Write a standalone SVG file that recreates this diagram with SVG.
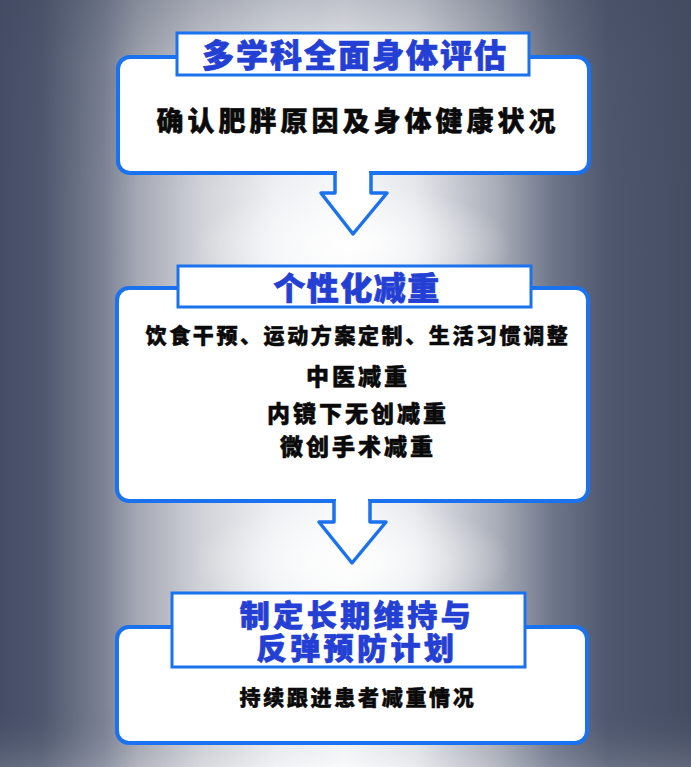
<svg xmlns="http://www.w3.org/2000/svg" width="691" height="767" viewBox="0 0 691 767">
  <defs>
    <linearGradient id="bgH" x1="0" y1="0" x2="1" y2="0">
      <stop offset="0" stop-color="#454e66"/>
      <stop offset="0.06" stop-color="#4d566d"/>
      <stop offset="0.15" stop-color="#7b8294"/>
      <stop offset="0.2" stop-color="#a5a9b4"/>
      <stop offset="0.29" stop-color="#d0d2d8"/>
      <stop offset="0.4" stop-color="#eef0f3"/>
      <stop offset="0.5" stop-color="#f8f9fa"/>
      <stop offset="0.6" stop-color="#e6e8ec"/>
      <stop offset="0.72" stop-color="#a9adb8"/>
      <stop offset="0.8" stop-color="#6e768a"/>
      <stop offset="0.88" stop-color="#4e576e"/>
      <stop offset="1" stop-color="#454d63"/>
    </linearGradient>
    <linearGradient id="bgV" x1="0" y1="0" x2="0" y2="1">
      <stop offset="0" stop-color="#3e465c" stop-opacity="0.3"/>
      <stop offset="0.08" stop-color="#3e465c" stop-opacity="0.1"/>
      <stop offset="0.25" stop-color="#3e465c" stop-opacity="0"/>
      <stop offset="0.92" stop-color="#3e465c" stop-opacity="0"/>
      <stop offset="1" stop-color="#ffffff" stop-opacity="0.15"/>
    </linearGradient>
    <radialGradient id="spot" cx="0.5" cy="0.5" r="0.5">
      <stop offset="0" stop-color="#ffffff" stop-opacity="0.9"/>
      <stop offset="1" stop-color="#ffffff" stop-opacity="0"/>
    </radialGradient>
    <style>
      .box { fill: #ffffff; stroke: #1b72ee; stroke-width: 4; }
      .tbox { fill: #ffffff; stroke: #1b72ee; stroke-width: 3; }
      .arrow { fill: #ffffff; stroke: #1b72ee; stroke-width: 3.5; stroke-linejoin: round; }
      .title { font-family: "Noto Sans CJK SC", "Noto Sans", sans-serif; font-weight: 900; fill: #2440d4; stroke: #2440d4; stroke-width: 0.7; text-anchor: middle; }
      .body { font-family: "Noto Sans CJK SC", "Noto Sans", sans-serif; font-weight: 900; fill: #0a0a0a; stroke: #0a0a0a; stroke-width: 0.5; text-anchor: middle; }
    </style>
  </defs>

  <rect x="0" y="0" width="691" height="767" fill="url(#bgH)"/>
  <rect x="0" y="0" width="691" height="767" fill="url(#bgV)"/>
  <ellipse cx="352" cy="245" rx="160" ry="60" fill="url(#spot)"/>
  <ellipse cx="352" cy="560" rx="160" ry="60" fill="url(#spot)"/>

  <g id="node1">
    <rect class="box" x="118" y="57" width="471" height="116" rx="12"/>
    <rect class="tbox" x="177" y="33" width="352" height="42"/>
    <text class="title" x="355" y="67" font-size="32" letter-spacing="2">多学科全面身体评估</text>
    <text class="body" x="358" y="131" font-size="27" letter-spacing="4">确认肥胖原因及身体健康状况</text>
  </g>

  <g id="node2">
    <rect class="box" x="117" y="288" width="471" height="213" rx="12"/>
    <rect class="tbox" x="178" y="266" width="353" height="41"/>
    <text class="title" x="357" y="300" font-size="32" letter-spacing="1.5">个性化减重</text>
    <text class="body" x="358" y="343" font-size="21" letter-spacing="2.6">饮食干预、运动方案定制、生活习惯调整</text>
    <text class="body" x="358" y="385" font-size="23" letter-spacing="3">中医减重</text>
    <text class="body" x="358" y="422" font-size="23" letter-spacing="3">内镜下无创减重</text>
    <text class="body" x="358" y="455" font-size="23" letter-spacing="3">微创手术减重</text>
  </g>

  <g id="node3">
    <rect class="box" x="117" y="627" width="470" height="116" rx="12"/>
    <rect class="tbox" x="172" y="593" width="353" height="74"/>
    <text class="title" x="357" y="626" font-size="30" letter-spacing="3.5">制定长期维持与</text>
    <text class="title" x="357" y="659" font-size="30" letter-spacing="3.5">反弹预防计划</text>
    <text class="body" x="358" y="705" font-size="21" letter-spacing="2.7">持续跟进患者减重情况</text>
  </g>

  <g id="connectors">
    <rect x="337" y="168" width="32" height="10" fill="#ffffff"/>
    <path class="arrow" d="M335,173 L335,193 L321,193 L353,234 L387,193 L371,193 L371,173"/>
    <rect x="336" y="496" width="32" height="10" fill="#ffffff"/>
    <path class="arrow" d="M334,501 L334,522 L319,522 L352,563 L386,522 L370,522 L370,501"/>
  </g>
</svg>
